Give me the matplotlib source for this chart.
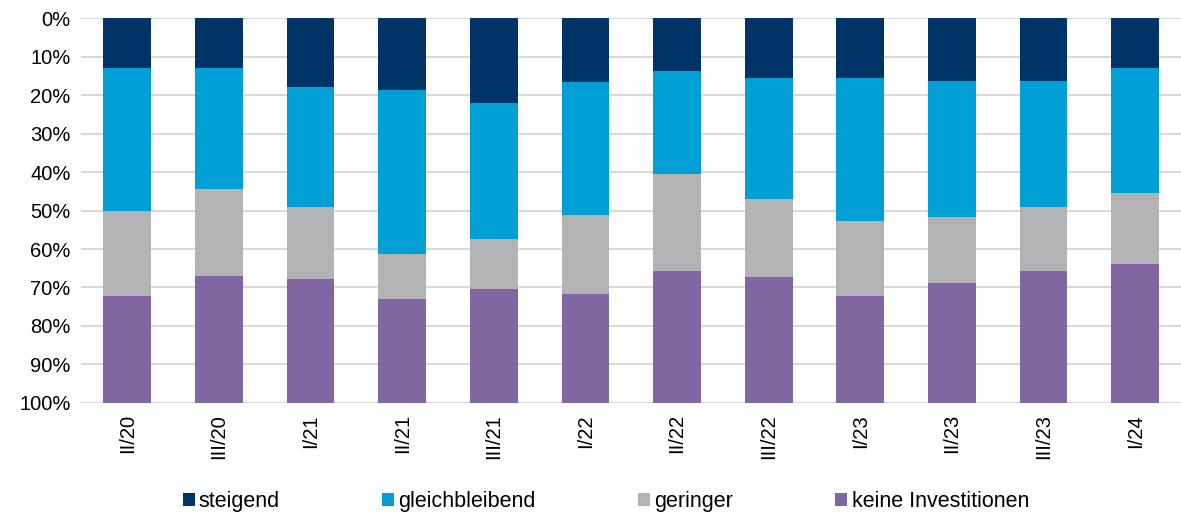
import numpy as np
import matplotlib.pyplot as plt

plt.rcParams['font.family'] = ['Liberation Sans', 'DejaVu Sans']

quarters = ['II/20', 'III/20', 'I/21', 'II/21', 'III/21', 'I/22',
            'II/22', 'III/22', 'I/23', 'II/23', 'III/23', 'I/24']
steigend = [13.0, 13.0, 17.8, 18.7, 22.0, 16.5, 13.7, 15.7, 15.7, 16.3, 16.3, 13.1]
gleichbleibend = [37.0, 31.5, 31.2, 42.5, 35.5, 34.6, 26.7, 31.4, 37.0, 35.3, 32.7, 32.4]
geringer = [22.1, 22.5, 18.7, 11.9, 12.9, 20.6, 25.2, 20.2, 19.4, 17.3, 16.8, 18.5]
keine = [27.9, 33.0, 32.3, 26.9, 29.6, 28.3, 34.4, 32.7, 27.9, 31.1, 34.2, 36.0]

series = [('steigend', steigend, '#003366'),
          ('gleichbleibend', gleichbleibend, '#009fd6'),
          ('geringer', geringer, '#b2b3b5'),
          ('keine Investitionen', keine, '#8066a2')]

fig = plt.figure(figsize=(11.81, 5.15), dpi=100)
ax = fig.add_axes([0.069, 0.2175, 0.931, 0.7475])

x = np.arange(len(quarters))
bottom = np.zeros(len(quarters))
for name, vals, col in series:
    vals = np.array(vals)
    ax.bar(x, vals, bottom=bottom, width=0.52, color=col, label=name, zorder=3)
    bottom += vals

ax.set_ylim(100, 0)
ax.set_xlim(-0.5, len(quarters) - 0.5)
ax.set_yticks(np.arange(0, 101, 10))
ax.set_yticklabels([f'{v}%' for v in range(0, 101, 10)], fontsize=14.5)
ax.set_xticks(x)
ax.set_xticklabels(quarters, rotation=90, fontsize=14.5)
ax.tick_params(length=0, pad=8)
ax.grid(axis='y', color='#d9d9d9', lw=1.5, zorder=0)
for s in ax.spines.values():
    s.set_visible(False)

fig.legend(loc='center', bbox_to_anchor=(0.513, 0.026), ncol=4, frameon=False,
           fontsize=15.5, handlelength=0.55, handleheight=0.55, handletextpad=0.2,
           columnspacing=4.75)

fig.savefig('out.png', dpi=100)
